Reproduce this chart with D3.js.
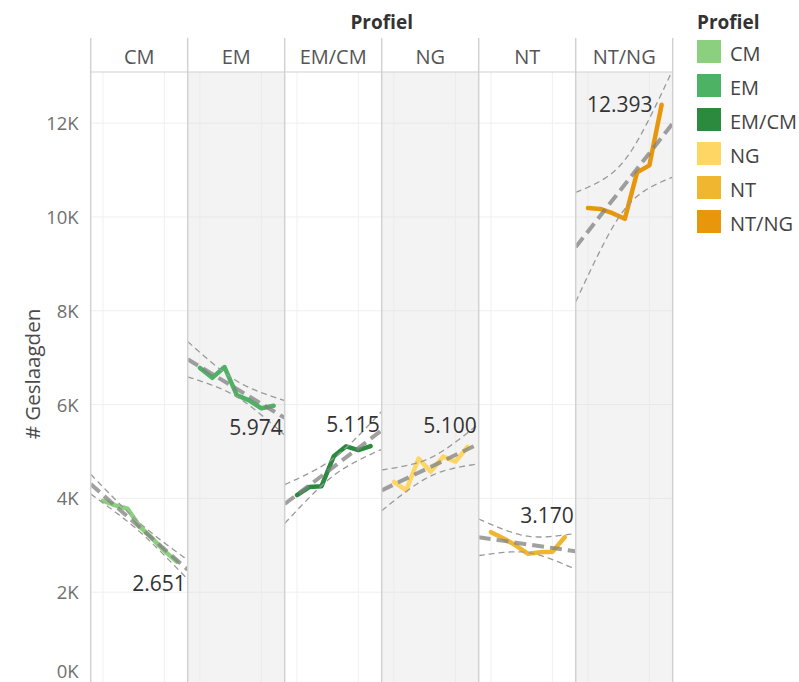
<!DOCTYPE html>
<html>
<head>
<meta charset="utf-8">
<script src="https://cdn.jsdelivr.net/npm/d3@7"></script>
<style>
  body { margin: 0; background: #fff; }
  svg { display: block; font-family: "Open Sans", "Noto Sans", sans-serif; }
</style>
</head>
<body>
<div id="chart"></div>
<script>
// Profielen (kolommen) en jaren (x binnen elk paneel)
const profielen = ["CM", "EM", "EM/CM", "NG", "NT", "NT/NG"];
const jaren = [2015, 2016, 2017, 2018, 2019, 2020, 2021];
const kleuren = ["#8ccf7e", "#4db263", "#2b8a3e", "#fdd663", "#f1b630", "#e8960c"];

// # Geslaagden per jaar
const geslaagdenCM = [3950, 3850, 3780, 3400, 3150, 2880, 2651];
const geslaagdenEM = [6780, 6570, 6800, 6200, 6090, 5920, 5974];
const geslaagdenEMCM = [4070, 4240, 4260, 4900, 5110, 5030, 5115];
const geslaagdenNG = [4350, 4170, 4850, 4570, 4890, 4780, 5100];
const geslaagdenNT = [3280, 3150, 3000, 2820, 2850, 2860, 3170];
const geslaagdenNTNG = [10190, 10170, 10080, 9960, 10950, 11100, 12393];

const yTicks = [0, 2000, 4000, 6000, 8000, 10000, 12000];
const xGridJaren = [2015, 2020];

const alleReeksen = [geslaagdenCM, geslaagdenEM, geslaagdenEMCM, geslaagdenNG, geslaagdenNT, geslaagdenNTNG];

// Maten
const width = 799;
const height = 682;
const panelLeft = 90.7;
const panelWidth = 97;
const headerTop = 38;
const headerBottom = 72;
const plotBottom = 686;

const svg = d3.select("#chart")
    .append("svg")
    .attr("width", width)
    .attr("height", height);

const yScale = d3.scaleLinear()
    .domain([0, 13090])
    .range([plotBottom, headerBottom]);

const xScale = d3.scaleLinear()
    .domain([2014, 2021.9])
    .range([0, panelWidth]);

const fmt = d3.format(",d");
const nlFormat = v => fmt(v).replace(/,/g, ".");

// lineaire regressie + 95% betrouwbaarheidsband (zoals Tableau)
function trend(xs, ys) {
    const n = xs.length;
    const mx = d3.mean(xs), my = d3.mean(ys);
    let sxx = 0, sxy = 0;
    xs.forEach((x, i) => { sxx += (x - mx) ** 2; sxy += (x - mx) * (ys[i] - my); });
    const b = sxy / sxx;
    const a = my - b * mx;
    let sse = 0;
    xs.forEach((x, i) => { sse += (ys[i] - (a + b * x)) ** 2; });
    const s = Math.sqrt(sse / (n - 2));
    const t = 2.5706; // t(0.975, df=5)
    return {
        fit: x => a + b * x,
        band: x => t * s * Math.sqrt(1 / n + (x - mx) ** 2 / sxx)
    };
}

// Titel boven de panelen
svg.append("text")
    .attr("x", panelLeft + panelWidth * profielen.length / 2)
    .attr("y", 29)
    .attr("text-anchor", "middle")
    .attr("font-size", 19)
    .attr("font-weight", "bold")
    .attr("fill", "#333")
    .text("Profiel");

const plotRight = panelLeft + panelWidth * profielen.length;

// Panelen
const labelPlaatsing = ["below", "below", "above", "above", "above", "left"];

profielen.forEach((p, pi) => {
    const x0 = panelLeft + pi * panelWidth;
    const g = svg.append("g").attr("transform", `translate(${x0},0)`);

    g.append("rect")
        .attr("x", 0).attr("y", headerBottom)
        .attr("width", panelWidth).attr("height", plotBottom - headerBottom)
        .attr("fill", pi % 2 === 1 ? "#f3f3f3" : "#fff");

    const clipId = "clip" + pi;
    g.append("clipPath").attr("id", clipId)
        .append("rect")
        .attr("x", 0).attr("y", headerBottom)
        .attr("width", panelWidth).attr("height", plotBottom - headerBottom);

    // gridlijnen
    g.selectAll(".hgrid").data(yTicks.slice(1)).enter()
        .append("line")
        .attr("x1", 0).attr("x2", panelWidth)
        .attr("y1", d => yScale(d)).attr("y2", d => yScale(d))
        .attr("stroke", pi % 2 === 1 ? "#e8e8e8" : "#efefef")
        .attr("stroke-width", 1);

    g.selectAll(".vgrid").data(xGridJaren).enter()
        .append("line")
        .attr("x1", d => xScale(d)).attr("x2", d => xScale(d))
        .attr("y1", headerBottom).attr("y2", plotBottom)
        .attr("stroke", pi % 2 === 1 ? "#ebebeb" : "#f0f0f0")
        .attr("stroke-width", 1);

    // kolomkop
    g.append("text")
        .attr("x", panelWidth / 2)
        .attr("y", 64)
        .attr("text-anchor", "middle")
        .attr("font-size", 20)
        .attr("fill", "#555")
        .text(p);

    const waarden = alleReeksen[pi];
    const tr = trend(jaren, waarden);
    const xs = d3.range(xScale.domain()[0], xScale.domain()[1] + 0.001, 0.1);

    const plot = g.append("g").attr("clip-path", `url(#${clipId})`);

    // datalijn
    plot.append("path")
        .datum(waarden)
        .attr("fill", "none")
        .attr("stroke", kleuren[pi])
        .attr("stroke-width", 4.5)
        .attr("stroke-linejoin", "round")
        .attr("stroke-linecap", "round")
        .attr("d", d3.line()
            .x((d, i) => xScale(jaren[i]))
            .y(d => yScale(d)));

    // betrouwbaarheidsbanden
    [-1, 1].forEach(sign => {
        plot.append("path")
            .datum(xs)
            .attr("fill", "none")
            .attr("stroke", "#9a9a9a")
            .attr("stroke-width", 1.3)
            .attr("stroke-dasharray", "6,4")
            .attr("d", d3.line()
                .x(d => xScale(d))
                .y(d => yScale(tr.fit(d) + sign * tr.band(d))));
    });

    // trendlijn
    plot.append("path")
        .datum(xScale.domain())
        .attr("fill", "none")
        .attr("stroke", "#808080")
        .attr("stroke-opacity", 0.75)
        .attr("stroke-width", 4)
        .attr("stroke-dasharray", "12,6")
        .attr("d", d3.line()
            .x(d => xScale(d))
            .y(d => yScale(tr.fit(d))));

    // label laatste waarde
    const laatste = waarden[waarden.length - 1];
    const lx = xScale(jaren[jaren.length - 1]);
    const ly = yScale(laatste);
    const plaats = labelPlaatsing[pi];
    g.append("text")
        .attr("x", plaats === "left" ? lx - 9 : panelWidth - 2)
        .attr("y", plaats === "below" ? ly + 29 : plaats === "above" ? ly - 14 : ly + 7)
        .attr("text-anchor", "end")
        .attr("font-size", 21)
        .attr("fill", "#333")
        .text(nlFormat(laatste));
});

// paneelranden
d3.range(profielen.length + 1).forEach(i => {
    svg.append("line")
        .attr("x1", panelLeft + i * panelWidth).attr("x2", panelLeft + i * panelWidth)
        .attr("y1", headerTop).attr("y2", plotBottom)
        .attr("stroke", "#d2d2d2")
        .attr("stroke-width", 1.5);
});
svg.append("line")
    .attr("x1", panelLeft).attr("x2", plotRight)
    .attr("y1", headerBottom).attr("y2", headerBottom)
    .attr("stroke", "#d2d2d2")
    .attr("stroke-width", 1.2);

// y-as
const yAxis = svg.append("g")
    .attr("transform", `translate(${panelLeft},0)`)
    .call(d3.axisLeft(yScale).tickValues(yTicks).tickSize(0).tickPadding(12)
        .tickFormat(d => (d / 1000) + "K"));
yAxis.select(".domain").remove();
yAxis.selectAll("text")
    .attr("font-size", 18.5)
    .attr("font-family", "Open Sans, Noto Sans, sans-serif")
    .attr("fill", "#707070")
    .attr("dy", d => d === 0 ? "-0.45em" : "0.35em");

svg.append("text")
    .attr("transform", "translate(40,374) rotate(-90)")
    .attr("text-anchor", "middle")
    .attr("font-size", 20.5)
    .attr("fill", "#4a4a4a")
    .text("# Geslaagden");

// legenda
const legend = svg.append("g").attr("transform", "translate(697,0)");
legend.append("text")
    .attr("x", 0).attr("y", 29)
    .attr("font-size", 19)
    .attr("font-weight", "bold")
    .attr("fill", "#333")
    .text("Profiel");

profielen.forEach((p, i) => {
    legend.append("rect")
        .attr("x", 0).attr("y", 40 + i * 34)
        .attr("width", 24).attr("height", 23)
        .attr("fill", kleuren[i]);
    legend.append("text")
        .attr("x", 33).attr("y", 40 + i * 34 + 21)
        .attr("font-size", 20)
        .attr("fill", "#444")
        .text(p);
});
</script>
</body>
</html>
